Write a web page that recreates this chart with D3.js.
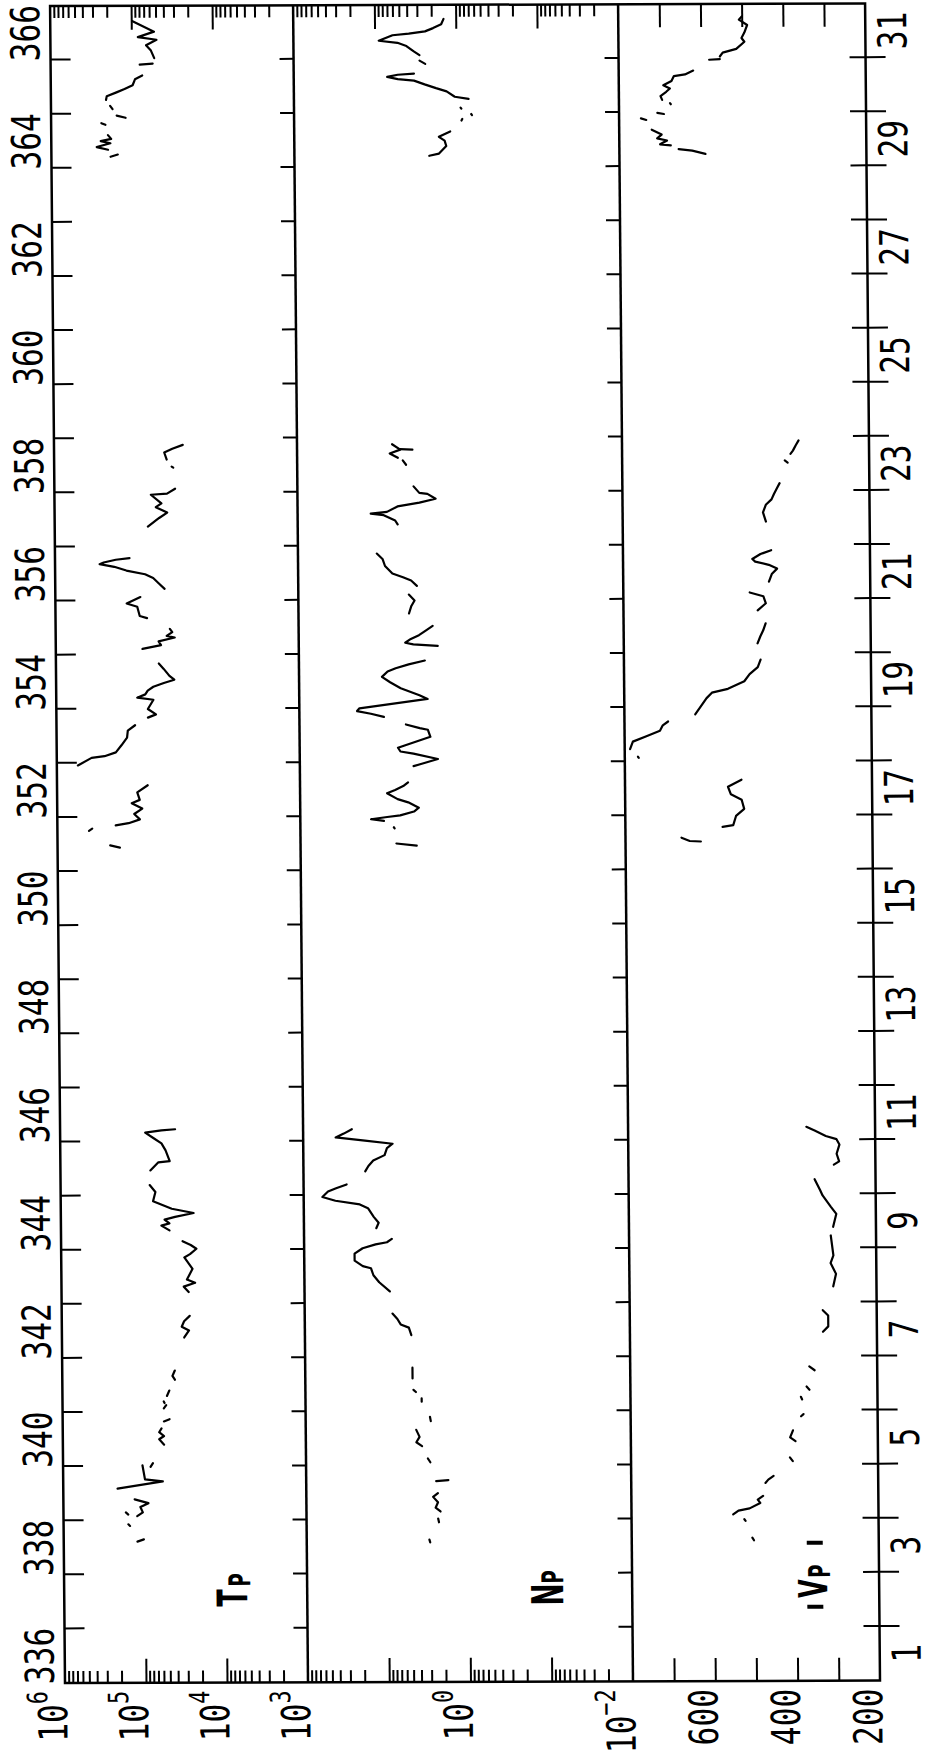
<!DOCTYPE html>
<html>
<head>
<meta charset="utf-8">
<title>Tp, Np, |Vp| - days 336 to 366</title>
<script src="https://cdn.jsdelivr.net/npm/d3@7"></script>
<style>
  body { margin: 0; background: #fff; }
  svg { display: block; }
</style>
</head>
<body>
<div id="chart"></div>
<script>
// ---- data ----
// time is day of year; Tp and Np are kept as log10 values, |Vp| in km/s
const doyLabels = [336, 338, 340, 342, 344, 346, 348, 350, 352, 354, 356, 358, 360, 362, 364, 366];
const domLabels = [1, 3, 5, 7, 9, 11, 13, 15, 17, 19, 21, 23, 25, 27, 29, 31];
const tpLabelExp = [6, 5, 4, 3];
const npLabelExp = [0, -2];
const vpTicks = [300, 400, 500, 600, 700];
const vpLabels = [600, 400, 200];

const tpLog = [
  [[366.72,4.99],[366.52,4.72],[366.42,4.92],[366.37,4.69],[366.27,4.82],[366.17,4.76],[366.03,4.72]],
  [[365.93,4.74],[365.91,4.90]],
  [[365.71,4.87],[365.64,4.96],[365.53,4.99],[365.46,5.09],[365.40,5.19],[365.33,5.31],[365.26,5.32]],
  [[365.15,5.27],[365.09,5.24]],
  [[364.97,5.19],[364.93,5.08]],
  [[364.83,5.38],[364.80,5.33]],
  [[364.61,5.30],[364.54,5.26],[364.50,5.39],[364.46,5.27],[364.39,5.44],[364.34,5.30]],
  [[364.25,5.18],[364.21,5.27]],
  [[358.88,4.41],[358.81,4.54],[358.74,4.64],[358.61,4.61]],
  [[358.48,4.55],[358.46,4.53]],
  [[358.07,4.51],[357.98,4.61],[357.96,4.81],[357.80,4.68],[357.73,4.75],[357.63,4.61],[357.53,4.71],[357.37,4.85]],
  [[356.79,5.08],[356.76,5.25],[356.71,5.40],[356.68,5.45],[356.63,5.27],[356.56,5.12],[356.49,4.89],[356.42,4.79],[356.32,4.72],[356.22,4.65]],
  [[356.07,4.95],[355.95,5.12],[355.89,4.99],[355.72,4.96],[355.68,4.87]],
  [[355.48,4.59],[355.42,4.56],[355.35,4.63],[355.32,4.53],[355.25,4.73],[355.18,4.70],[355.11,4.93]],
  [[354.84,4.73],[354.74,4.67],[354.61,4.60],[354.54,4.54],[354.48,4.67],[354.41,4.80],[354.34,4.87],[354.27,4.90],[354.21,5.00],[354.17,4.80],[354.00,4.87],[353.90,4.77],[353.84,4.87]],
  [[353.70,5.03],[353.60,5.12],[353.47,5.13],[353.33,5.20],[353.20,5.27],[353.13,5.41],[353.10,5.57],[352.96,5.74]],
  [[352.59,4.88],[352.46,5.01],[352.32,4.98],[352.26,5.08],[352.16,4.95],[352.06,5.05],[351.96,4.98],[351.89,5.12],[351.85,5.28]],
  [[351.79,5.57],[351.75,5.61]],
  [[351.48,5.35],[351.44,5.23]],
  [[346.23,4.58],[346.21,4.75],[346.17,4.95],[346.07,4.85],[345.97,4.75],[345.84,4.70],[345.64,4.65],[345.62,4.79],[345.47,4.89]],
  [[345.20,4.90],[345.07,4.83],[344.90,4.86],[344.76,4.63],[344.68,4.36],[344.61,4.59],[344.56,4.72],[344.49,4.66],[344.45,4.76],[344.36,4.66]],
  [[344.16,4.50],[344.09,4.40],[344.02,4.33],[343.92,4.41],[343.86,4.48],[343.65,4.38],[343.45,4.45],[343.39,4.35],[343.32,4.49],[343.22,4.43]],
  [[342.78,4.42],[342.68,4.49],[342.58,4.52],[342.51,4.43],[342.38,4.49]],
  [[341.77,4.61],[341.67,4.64],[341.60,4.61]],
  [[341.40,4.68],[341.30,4.71]],
  [[341.20,4.75],[341.17,4.74]],
  [[341.13,4.72],[341.07,4.75]],
  [[340.87,4.68],[340.83,4.75]],
  [[340.70,4.78],[340.63,4.81],[340.56,4.75],[340.50,4.81],[340.40,4.75]],
  [[340.06,4.89],[339.99,4.92]],
  [[340.02,5.02],[339.76,4.99],[339.72,4.77],[339.59,5.33]],
  [[339.39,5.12],[339.32,4.95],[339.25,5.05],[339.15,5.02],[339.08,5.09]],
  [[339.15,5.23],[339.11,5.20]],
  [[338.93,5.20],[338.90,5.18]],
  [[338.65,5.01],[338.61,5.09]]
];

const npLog = [
  [[366.74,0.15],[366.64,0.18],[366.57,0.28],[366.51,0.38],[366.47,0.58],[366.44,0.78],[366.34,0.95],[366.30,0.72],[366.24,0.61],[366.14,0.52],[366.07,0.45]],
  [[365.97,0.45],[365.91,0.38]],
  [[365.73,0.52],[365.71,0.72],[365.67,0.85],[365.63,0.72],[365.60,0.52],[365.53,0.39],[365.46,0.25],[365.40,0.12],[365.30,0.02],[365.26,-0.15]],
  [[365.10,-0.05],[365.08,-0.06]],
  [[364.98,-0.18],[364.96,-0.19]],
  [[364.89,-0.07],[364.86,-0.06]],
  [[364.66,0.08],[364.56,0.22],[364.49,0.15],[364.39,0.13],[364.25,0.22],[364.21,0.34]],
  [[358.88,0.83],[358.78,0.73],[358.71,0.86],[358.63,0.76]],
  [[358.79,0.73],[358.78,0.58]],
  [[358.58,0.70],[358.50,0.66]],
  [[358.10,0.57],[357.98,0.50],[357.96,0.40],[357.87,0.30],[357.80,0.50],[357.73,0.77],[357.63,0.90],[357.60,1.10],[357.57,0.94],[357.47,0.80],[357.40,0.77]],
  [[356.86,1.03],[356.76,0.96],[356.63,0.93],[356.49,0.84],[356.42,0.71],[356.36,0.61],[356.26,0.54]],
  [[356.10,0.64],[355.99,0.57],[355.89,0.61],[355.75,0.64]],
  [[355.52,0.35],[355.42,0.45],[355.35,0.52],[355.28,0.62],[355.21,0.69],[355.18,0.59],[355.15,0.29]],
  [[354.88,0.45],[354.81,0.65],[354.74,0.81],[354.68,0.91],[354.58,0.98],[354.48,0.88],[354.37,0.75],[354.24,0.52],[354.17,0.42],[354.00,1.26],[353.95,1.29],[353.90,1.12],[353.84,0.96]],
  [[353.70,0.69],[353.63,0.52],[353.60,0.42],[353.47,0.39],[353.27,0.79],[353.20,0.76],[353.16,0.60],[353.06,0.30],[352.96,0.53],[352.93,0.60]],
  [[352.63,0.67],[352.56,0.73],[352.49,0.83],[352.43,0.93],[352.32,0.80],[352.26,0.67],[352.16,0.54],[352.09,0.60],[352.02,0.77],[351.99,0.93],[351.95,1.13],[351.92,0.97]],
  [[351.80,0.85],[351.78,0.84]],
  [[351.50,0.82],[351.46,0.57]],
  [[346.22,1.40],[346.14,1.50],[346.07,1.60],[346.01,1.24],[345.95,0.90],[345.87,0.97],[345.74,1.00],[345.64,1.14],[345.54,1.20],[345.44,1.24]],
  [[345.20,1.47],[345.13,1.60],[345.07,1.70],[344.97,1.77],[344.90,1.61],[344.83,1.31],[344.76,1.21],[344.60,1.14],[344.49,1.08],[344.39,1.11]],
  [[344.19,0.92],[344.13,0.98],[344.09,1.12],[344.02,1.28],[343.92,1.38],[343.79,1.38],[343.69,1.28],[343.65,1.18],[343.52,1.15],[343.39,1.08],[343.22,0.95]],
  [[342.81,0.92],[342.71,0.86],[342.61,0.82],[342.55,0.72],[342.41,0.69]],
  [[341.81,0.68],[341.61,0.68]],
  [[341.40,0.67],[341.36,0.64]],
  [[341.24,0.57],[341.18,0.57]],
  [[340.90,0.47],[340.82,0.46]],
  [[340.66,0.64],[340.53,0.60],[340.43,0.64],[340.36,0.57]],
  [[340.13,0.50],[340.06,0.47]],
  [[339.73,0.25],[339.71,0.40]],
  [[339.49,0.38],[339.42,0.44],[339.32,0.38],[339.22,0.41],[339.15,0.35]],
  [[339.02,0.38],[338.95,0.37]],
  [[338.63,0.49],[338.58,0.48]]
];

const vpKms = [
  [[366.77,500],[366.71,507],[366.61,487],[366.47,494],[366.37,501],[366.30,494],[366.17,514],[366.10,547],[366.03,554]],
  [[365.98,554],[365.97,580]],
  [[365.77,619],[365.70,639],[365.67,666],[365.58,672],[365.50,692],[365.44,676],[365.38,685],[365.30,699],[365.23,695]],
  [[365.17,676],[365.15,674]],
  [[364.99,707],[364.97,691]],
  [[364.89,747],[364.86,734]],
  [[364.68,721],[364.59,697],[364.52,708],[364.48,684],[364.41,701],[364.39,675]],
  [[364.32,656],[364.29,623],[364.23,591]],
  [[358.93,371],[358.84,378],[358.74,385],[358.68,391]],
  [[358.56,405],[358.52,398]],
  [[358.14,418],[358.04,425],[357.94,432],[357.84,438],[357.74,452],[357.60,459],[357.43,452]],
  [[356.90,440],[356.83,466],[356.74,486],[356.69,479],[356.63,446],[356.56,426],[356.46,439],[356.32,446]],
  [[356.12,493],[356.05,460],[355.92,454],[355.79,474]],
  [[355.55,455],[355.42,461],[355.31,468],[355.18,475]],
  [[354.88,468],[354.74,475],[354.61,495],[354.48,508],[354.34,548],[354.27,587],[354.17,600],[353.87,628]],
  [[353.74,694],[353.67,707],[353.57,714],[353.47,747],[353.37,780],[353.23,787]],
  [[353.09,768],[353.07,766]],
  [[352.66,517],[352.53,550],[352.39,543],[352.29,517],[352.12,511],[351.99,531],[351.82,538],[351.79,564]],
  [[351.59,664],[351.53,644],[351.52,617]],
  [[346.24,367],[346.17,347],[346.07,320],[346.01,294],[345.91,287],[345.74,294],[345.60,288],[345.54,301]],
  [[345.27,348],[345.07,335],[344.97,329],[344.76,309],[344.63,296],[344.39,304]],
  [[344.23,310],[343.86,304],[343.72,311],[343.52,298],[343.29,305]],
  [[342.85,331],[342.75,318],[342.55,318],[342.45,331]],
  [[341.81,365],[341.74,352]],
  [[341.44,372],[341.38,365]],
  [[341.25,386],[341.20,383]],
  [[340.93,380],[340.89,386]],
  [[340.63,406],[340.50,413],[340.43,400]],
  [[340.13,414],[340.06,407]],
  [[339.79,454],[339.72,467],[339.66,474]],
  [[339.42,480],[339.35,493],[339.29,487],[339.19,513],[339.15,540],[339.08,553]],
  [[338.99,526],[338.96,523]],
  [[338.65,507],[338.60,503]]
];

// ---- layout ----
const W = 931, H = 1762;
const plotW = 1677;              // length of the time axis before the page is turned
const tpH = 243, npH = 325, vpH = 247;
const plotH = tpH + npH + vpH;

const svg = d3.select("#chart").append("svg")
    .attr("width", W)
    .attr("height", H);

svg.append("rect").attr("width", W).attr("height", H).attr("fill", "#fff");

// the plot is drawn landscape and then turned onto the page; the scan is slightly skewed
const g = svg.append("g")
    .attr("transform", "matrix(-0.0089,-1,1,-0.003,65,1683)");

const x = d3.scaleLinear().domain([336, 367]).range([0, plotW]);
const tpY = d3.scaleLog().domain([1e3, 1e6]).range([tpH, 0]);
const npY = d3.scaleLog().domain([1e-2, 1e2]).range([tpH + npH, tpH]);
const vpY = d3.scaleLinear().domain([200, 800]).range([plotH, tpH + npH]);

// frame and panel separators
g.append("rect")
    .attr("width", plotW)
    .attr("height", plotH)
    .attr("fill", "none")
    .attr("stroke", "#000")
    .attr("stroke-width", 2.5);

[tpH, tpH + npH].forEach(yy => {
    g.append("line")
        .attr("x1", 0).attr("x2", plotW)
        .attr("y1", yy).attr("y2", yy)
        .attr("stroke", "#000")
        .attr("stroke-width", 2.5);
});

// helper: put an axis down, keep only its tick marks
function tickRow(axis, tx, ty) {
    g.append("g")
        .attr("transform", `translate(${tx},${ty})`)
        .call(axis)
        .call(a => a.select(".domain").remove())
        .call(a => a.selectAll("text").remove())
        .call(a => a.selectAll("line").attr("stroke", "#000").attr("stroke-width", 2));
}

// day ticks
const days = d3.range(337, 367);
tickRow(d3.axisTop(x).tickValues(days).tickSize(-20), 0, 0);
tickRow(d3.axisBottom(x).tickValues(days).tickSize(-14), 0, tpH);
tickRow(d3.axisBottom(x).tickValues(days).tickSize(-14), 0, tpH + npH);
tickRow(d3.axisBottom(x).tickValues(days).tickSize(20), 0, plotH);
tickRow(d3.axisBottom(x).tickValues(days).tickSize(-16), 0, plotH);

// log ticks for Tp and Np, long at decades
function logTicks(scale) {
    const [lo, hi] = scale.domain();
    const all = scale.ticks().filter(v => v > lo * 1.001 && v < hi * 0.999);
    const isDecade = v => Math.abs(Math.log10(v) - Math.round(Math.log10(v))) < 1e-6;
    const major = all.filter(isDecade);
    const minor = all.filter(v => !isDecade(v));
    tickRow(d3.axisLeft(scale).tickValues(minor).tickSize(-12), 0, 0);
    tickRow(d3.axisLeft(scale).tickValues(major).tickSize(-24), 0, 0);
    tickRow(d3.axisRight(scale).tickValues(minor).tickSize(-12), plotW, 0);
    tickRow(d3.axisRight(scale).tickValues(major).tickSize(-24), plotW, 0);
}
logTicks(tpY);
logTicks(npY);
tickRow(d3.axisLeft(vpY).tickValues(vpTicks).tickSize(-23), 0, 0);
tickRow(d3.axisRight(vpY).tickValues(vpTicks).tickSize(-23), plotW, 0);

// ---- data traces ----
function trace(segments, yScale, fromLog) {
    const line = d3.line()
        .x(d => x(d[0]))
        .y(d => yScale(fromLog ? Math.pow(10, d[1]) : d[1]));
    g.append("g")
        .selectAll("path")
        .data(segments)
        .join("path")
        .attr("d", line)
        .attr("fill", "none")
        .attr("stroke", "#000")
        .attr("stroke-width", 2.2)
        .attr("stroke-linejoin", "round")
        .attr("stroke-linecap", "round");
}
trace(tpLog, tpY, true);
trace(npLog, npY, true);
trace(vpKms, vpY, false);

// ---- tick labels ----
const lab = g.append("g")
    .attr("font-family", "'DejaVu Sans Mono', monospace")
    .attr("font-size", 40)
    .attr("fill", "#000");

// day of year along the top of the Tp panel, centred on each day
lab.selectAll("text.doy")
    .data(doyLabels)
    .join("text")
    .attr("class", "doy")
    .attr("text-anchor", "middle")
    .attr("transform", d => `translate(${x(d + 0.5)},-11) scale(0.78,1)`)
    .text(d => d);

// day of December under the |Vp| panel (Dec 1 = day 336)
lab.selectAll("text.dom")
    .data(domLabels)
    .join("text")
    .attr("class", "dom")
    .attr("text-anchor", "middle")
    .attr("transform", d => `translate(${x(335 + d + 0.5)},${plotH + 41}) scale(0.78,1)`)
    .text(d => d);

function powLabel(yPos, exp) {
    const t = lab.append("text")
        .attr("text-anchor", "end")
        .attr("transform", `translate(-8,${yPos + 2}) scale(0.78,1)`);
    t.append("tspan").text("10");
    t.append("tspan")
        .attr("font-size", 28)
        .attr("dy", -20)
        .text(exp < 0 ? "\u2212" + (-exp) : exp);
}
tpLabelExp.forEach(e => powLabel(tpY(Math.pow(10, e)), e));
npLabelExp.forEach(e => powLabel(npY(Math.pow(10, e)), e));

lab.selectAll("text.vp")
    .data(vpLabels)
    .join("text")
    .attr("class", "vp")
    .attr("text-anchor", "end")
    .attr("transform", d => `translate(-8,${vpY(d) + 2}) scale(0.78,1)`)
    .text(d => d);

// ---- panel names ----
const names = g.append("g")
    .attr("font-family", "'DejaVu Sans', sans-serif")
    .attr("font-weight", "bold")
    .attr("fill", "#000");

function nameText(str, px, py, size) {
    names.append("text")
        .attr("transform", `translate(${px},${py}) scale(0.6,1)`)
        .attr("font-size", size)
        .text(str);
}
nameText("T", 76, 183, 42);
nameText("P", 96, 186, 30);
nameText("N", 76, 499, 44);
nameText("P", 98, 499, 30);
nameText("V", 83, 763, 40);
nameText("P", 103, 766, 30);

// the short bars round Vp
[72, 136].forEach(bx => {
    names.append("line")
        .attr("x1", bx + 2).attr("x2", bx + 2)
        .attr("y1", 743).attr("y2", 759)
        .attr("stroke", "#000")
        .attr("stroke-width", 4);
});
</script>
</body>
</html>
